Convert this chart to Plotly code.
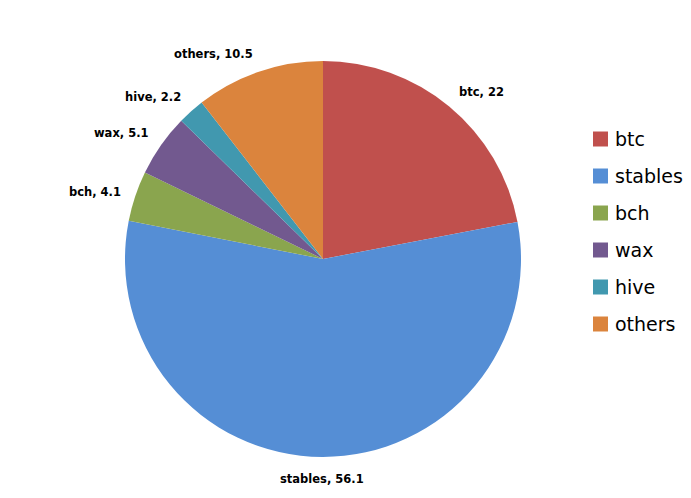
import math
import plotly.graph_objects as go

labels = ["btc", "stables", "bch", "wax", "hive", "others"]
values = [22, 56.1, 4.1, 5.1, 2.2, 10.5]
colors = ["#C0504D", "#558ED5", "#8AA54E", "#72598F", "#4198AF", "#DB843D"]

W, H = 691, 498
OFF = 8  # page body margin offset seen in the rendered picture
cx, cy, r = 323 - OFF, 259 - OFF, 198
label_gap = 14

fig = go.Figure(go.Pie(
    labels=labels, values=values, sort=False, direction="clockwise", rotation=0,
    marker=dict(colors=colors, line=dict(width=0)),
    textinfo="none",
    domain=dict(x=[(cx - r) / W, (cx + r) / W], y=[(H - cy - r) / H, (H - cy + r) / H]),
    showlegend=False, hoverinfo="label+value",
))

# data labels placed just outside each slice, at the slice's middle angle
total = sum(values)
cum = 0.0
for lab, val in zip(labels, values):
    mid = (cum + val / 2) / total * 2 * math.pi
    cum += val
    dx, dy = math.sin(mid), -math.cos(mid)  # screen direction (y down)
    px, py = cx + (r + label_gap) * dx, cy + (r + label_gap) * dy
    xa = "left" if dx > 0.2 else ("right" if dx < -0.2 else "center")
    ya = "bottom" if dy < -0.4 else ("top" if dy > 0.4 else "middle")
    ys = -4 if ya == "bottom" else 0
    fig.add_annotation(xref="paper", yref="paper", x=px / W, y=1 - py / H,
                       xanchor=xa, yanchor=ya, yshift=ys, showarrow=False, borderpad=0,
                       text=f"<b>{lab}, {val:g}</b>",
                       font=dict(family="DejaVu Sans", size=11.5, color="#000000"))

# legend drawn as squares + text
leg_top, leg_step, sq = 139 - OFF, 37, 15
sq_x0 = 593 - OFF
txt_x = 613 - OFF
for i, (lab, col) in enumerate(zip(labels, colors)):
    yc = leg_top + i * leg_step
    fig.add_shape(type="rect", xref="paper", yref="paper",
                  x0=sq_x0 / W, x1=(sq_x0 + sq) / W,
                  y0=1 - (yc + sq / 2) / H, y1=1 - (yc - sq / 2) / H,
                  fillcolor=col, line=dict(width=0))
    fig.add_annotation(xref="paper", yref="paper", x=txt_x / W, y=1 - yc / H,
                       xanchor="left", yanchor="middle", showarrow=False, text=lab,
                       font=dict(family="DejaVu Sans", size=19, color="#000000"))

fig.update_layout(
    width=W, height=H, margin=dict(l=0, r=0, t=0, b=0),
    paper_bgcolor="white", plot_bgcolor="white", showlegend=False,
)
fig.write_html("out.html")
